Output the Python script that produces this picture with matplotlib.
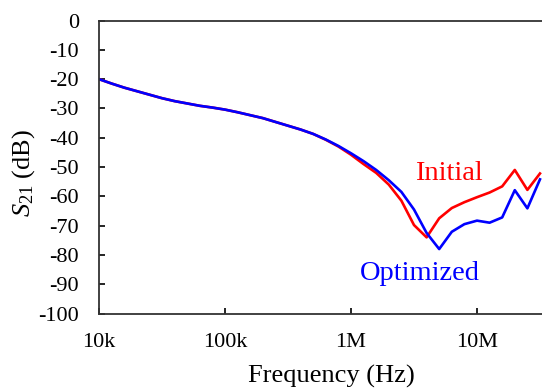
import numpy as np
import matplotlib
matplotlib.use('Agg')
import matplotlib.pyplot as plt
from matplotlib import rcParams
from matplotlib.ticker import FixedLocator, NullLocator

rcParams['font.family'] = 'serif'
rcParams['font.serif'] = ['Liberation Serif', 'DejaVu Serif']
rcParams['mathtext.fontset'] = 'custom'
rcParams['mathtext.rm'] = 'Liberation Serif'
rcParams['mathtext.it'] = 'Liberation Serif:italic'
rcParams['axes.unicode_minus'] = False

# frequency points, 10 per decade, 10 kHz .. 31.6 MHz
freq = 10 ** (4 + np.arange(36) / 10.0)

s21_initial = [-20.0, -21.5, -22.9, -24.1, -25.3, -26.5, -27.5, -28.3, -29.1, -29.7,
               -30.4, -31.3, -32.3, -33.3, -34.6, -35.9, -37.2, -38.7, -40.7, -43.0,
               -45.8, -49.0, -52.0, -56.0, -61.5, -69.8, -74.0, -67.5, -64.0, -62.0,
               -60.3, -58.7, -56.6, -51.0, -57.8, -52.2]
s21_optimized = [-20.0, -21.5, -22.9, -24.1, -25.3, -26.5, -27.5, -28.3, -29.1, -29.7,
                 -30.4, -31.3, -32.3, -33.3, -34.6, -35.9, -37.2, -38.7, -40.6, -42.8,
                 -45.3, -48.0, -51.0, -54.5, -58.5, -64.5, -72.5, -78.0, -72.1, -69.5,
                 -68.3, -69.0, -67.2, -57.9, -64.1, -54.2]

xticks = [1e4, 1e5, 1e6, 1e7]
xtick_labels = ['10k', '100k', '1M', '10M']
yticks = np.arange(-100, 1, 10)

fig = plt.figure(figsize=(5.42, 3.88), dpi=100)
ax = fig.add_axes([0.1827, 0.192, 0.8173, 0.755])

ax.plot(freq, s21_initial, color='#ff0000', linewidth=1.9)
ax.plot(freq, s21_optimized, color='#0000ff', linewidth=1.9)

ax.set_xscale('log')
ax.set_xlim(1e4, 10 ** 7.516)
ax.set_ylim(-100, 0)
ax.xaxis.set_major_locator(FixedLocator(xticks))
ax.xaxis.set_minor_locator(NullLocator())
ax.set_xticklabels(xtick_labels)
ax.set_yticks(yticks)

ax.tick_params(direction='in', length=4.5, width=1.2, labelsize=16, colors='black')
ax.tick_params(axis='x', pad=14)
ax.tick_params(axis='y', pad=14.5)

ax.spines['right'].set_visible(False)
for s in ['left', 'bottom', 'top']:
    ax.spines[s].set_linewidth(1.3)
    ax.spines[s].set_color('#333333')

ax.set_xlabel('Frequency (Hz)', fontsize=19)
ax.set_ylabel(r'$S_{\mathrm{21}}$ (dB)', fontsize=19)
# plot area in the source runs a little past the right edge; label is centred on it
ax.xaxis.set_label_coords((331 - 99) / (542 - 99), -0.175)
ax.yaxis.set_label_coords(-0.14, 0.48)

ax.text(6.0e6, -52.2, 'Initial', color='#ff0000', fontsize=20.5, ha='center', va='center')
ax.text(3.5e6, -86.5, 'Optimized', color='#0000ff', fontsize=20.5, ha='center', va='center')

fig.savefig('out.png', dpi=100)
